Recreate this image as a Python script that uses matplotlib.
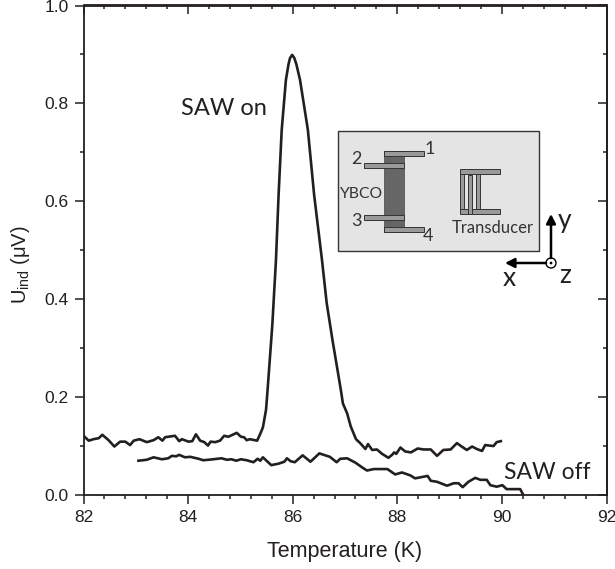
"""Induced voltage vs temperature with SAW on/off, plus the sample sketch inset."""

import matplotlib

matplotlib.use("Agg")
from matplotlib import pyplot as plt
from matplotlib.patches import Circle, Rectangle
from matplotlib.ticker import MultipleLocator

plt.rcParams["font.family"] = ["Liberation Sans", "DejaVu Sans"]
plt.rcParams["mathtext.default"] = "regular"

INK = "#231f20"
SKETCH_FONT = "Lato"

saw_on_t = [
    82.00, 82.10, 82.19, 82.29, 82.36, 82.48, 82.59, 82.70, 82.80, 82.89, 82.96, 83.07, 83.21, 83.34,
    83.43, 83.51, 83.56, 83.75, 83.83, 83.88, 84.01, 84.08, 84.15, 84.23, 84.31, 84.38, 84.43, 84.52,
    84.61, 84.69, 84.77, 84.93, 85.01, 85.07, 85.12, 85.18, 85.32, 85.38, 85.43, 85.49, 85.52, 85.61,
    85.68, 85.73, 85.79, 85.87, 85.92, 85.95, 85.99, 86.03, 86.07, 86.14, 86.29, 86.41, 86.56, 86.65,
    86.76, 86.92, 86.96, 87.04, 87.11, 87.21, 87.29, 87.39, 87.44, 87.52, 87.61, 87.71, 87.83, 87.90,
    87.94, 87.98, 88.06, 88.15, 88.26, 88.39, 88.50, 88.64, 88.76, 88.88, 89.02, 89.14, 89.23, 89.33,
    89.43, 89.52, 89.62, 89.68, 89.84, 89.90, 89.98,
]
saw_on_u = [
    0.121, 0.111, 0.114, 0.116, 0.123, 0.112, 0.099, 0.109, 0.109, 0.102, 0.111, 0.114, 0.108, 0.112,
    0.118, 0.111, 0.118, 0.121, 0.110, 0.114, 0.109, 0.110, 0.124, 0.111, 0.108, 0.101, 0.109, 0.108,
    0.111, 0.121, 0.119, 0.127, 0.119, 0.118, 0.112, 0.114, 0.111, 0.125, 0.138, 0.174, 0.215, 0.347,
    0.480, 0.613, 0.746, 0.848, 0.880, 0.893, 0.899, 0.893, 0.880, 0.848, 0.746, 0.613, 0.480, 0.392,
    0.317, 0.215, 0.187, 0.167, 0.140, 0.114, 0.106, 0.094, 0.104, 0.092, 0.093, 0.084, 0.076, 0.082,
    0.087, 0.084, 0.097, 0.089, 0.087, 0.095, 0.093, 0.093, 0.080, 0.092, 0.093, 0.106, 0.099, 0.092,
    0.099, 0.094, 0.090, 0.102, 0.100, 0.108, 0.110,
]
saw_off_t = [
    83.05, 83.21, 83.34, 83.50, 83.62, 83.69, 83.77, 83.83, 83.94, 84.04, 84.20, 84.29, 84.39, 84.48,
    84.64, 84.74, 84.83, 84.92, 85.01, 85.12, 85.25, 85.33, 85.38, 85.43, 85.50, 85.59, 85.73, 85.84,
    85.89, 85.96, 86.04, 86.19, 86.34, 86.51, 86.71, 86.84, 86.91, 87.04, 87.20, 87.32, 87.42, 87.55,
    87.71, 87.81, 87.96, 88.09, 88.25, 88.34, 88.58, 88.64, 88.76, 88.95, 89.08, 89.17, 89.25, 89.36,
    89.49, 89.59, 89.71, 89.78, 89.90, 90.01, 90.09, 90.35, 90.41,
]
saw_off_u = [
    0.070, 0.072, 0.077, 0.073, 0.075, 0.080, 0.079, 0.082, 0.077, 0.078, 0.074, 0.071, 0.072, 0.073,
    0.075, 0.072, 0.073, 0.070, 0.073, 0.071, 0.067, 0.074, 0.070, 0.077, 0.070, 0.061, 0.064, 0.068,
    0.075, 0.069, 0.067, 0.081, 0.068, 0.085, 0.078, 0.067, 0.074, 0.075, 0.066, 0.057, 0.050, 0.053,
    0.053, 0.053, 0.042, 0.046, 0.040, 0.034, 0.039, 0.029, 0.027, 0.019, 0.024, 0.024, 0.016, 0.027,
    0.035, 0.031, 0.031, 0.020, 0.017, 0.020, 0.012, 0.012, 0.000,
]
x_ticks = [82, 84, 86, 88, 90, 92]
y_ticks = [0.0, 0.2, 0.4, 0.6, 0.8, 1.0]


def style_axis(axis, direction, labels):
    axis.set_major_locator(MultipleLocator(2 if axis.axis_name == "x" else 0.2))
    axis.set_minor_locator(MultipleLocator(0.4 if axis.axis_name == "x" else 0.1))
    axis.set_tick_params(which="major", direction=direction, length=6.5, width=1.1, color=INK)
    axis.set_tick_params(which="minor", direction=direction, length=3.2, width=1.1, color=INK)
    if not labels:
        axis.set_ticklabels([])


def draw_sketch(sk):
    """The inset is a drawing, not data, so it is laid out in image pixels."""
    bar = dict(facecolor="#9a9a9a", edgecolor="#333333", linewidth=0.7)
    sk.add_patch(Rectangle((337.5, 131), 201, 120, facecolor="#e4e4e4", edgecolor="#333333", linewidth=1.0))
    sk.add_patch(Rectangle((383.5, 151), 20, 81, facecolor="#666666", edgecolor="#444444", linewidth=0.5))
    for x0, y0 in [(383.5, 151), (363.5, 163), (363.5, 215), (383.5, 227)]:
        sk.add_patch(Rectangle((x0, y0), 40, 4.5, **bar))
    for y0 in [169, 209]:
        sk.add_patch(Rectangle((459.5, y0), 40.5, 4.5, **bar))
    sk.add_patch(Rectangle((459.5, 173.5), 4, 35.5, **bar))
    sk.add_patch(Rectangle((467.5, 175), 4, 38.5, **bar))
    sk.add_patch(Rectangle((476, 173.5), 4, 35.5, **bar))

    small = dict(family=SKETCH_FONT, color="#333333", ha="center", va="center")
    for label, x0, y0 in [("1", 430, 149), ("2", 356, 159), ("3", 356, 221), ("4", 428, 236)]:
        sk.text(x0, y0, label, fontsize=13, **small)
    sk.text(361, 194, "YBCO", fontsize=11.3, **small)
    sk.text(493, 228, "Transducer", fontsize=12, **small)

    arrow = dict(arrowstyle="-|>,head_length=0.55,head_width=0.28", color="black", linewidth=1.8, shrinkA=0, shrinkB=0)
    sk.annotate("", xy=(505, 263), xytext=(546, 263), arrowprops=arrow)
    sk.annotate("", xy=(551, 214), xytext=(551, 258), arrowprops=arrow)
    sk.add_patch(Circle((551, 263), 5, facecolor="white", edgecolor="black", linewidth=1.0))
    sk.add_patch(Circle((551, 263), 1.4, facecolor="black", edgecolor="none"))
    big = dict(family=SKETCH_FONT, color=INK, ha="center", va="center", fontsize=19)
    sk.text(509, 278, "x", **big)
    sk.text(565, 220, "y", **big)
    sk.text(565, 275, "z", **big)


fig = plt.figure(figsize=(6.15, 5.69), dpi=100)
ax = fig.add_axes([83.5 / 615, 1 - 495 / 569, 523 / 615, 489.5 / 569])

ax.plot(saw_on_t, saw_on_u, color=INK, linewidth=1.9, solid_joinstyle="round")
ax.plot(saw_off_t, saw_off_u, color=INK, linewidth=1.9, solid_joinstyle="round")
ax.set_xlim(82, 92)
ax.set_ylim(0, 1)

style_axis(ax.xaxis, "out", True)
style_axis(ax.yaxis, "out", True)
ax.set_xticks(x_ticks)
ax.set_yticks(y_ticks)
ax.set_yticklabels([f"{v:.1f}" for v in y_ticks])
ax.tick_params(axis="both", which="major", labelsize=12.5, labelcolor=INK, pad=4)

top = ax.secondary_xaxis("top")
style_axis(top.xaxis, "in", False)
right = ax.secondary_yaxis("right")
style_axis(right.yaxis, "in", False)
for a in [ax, top, right]:
    for spine in a.spines.values():
        spine.set_linewidth(1.3)
        spine.set_color(INK)

ax.set_xlabel("Temperature (K)", fontsize=15.5, color=INK, va="center")
ax.xaxis.set_label_coords(0.5, -0.116)
ax.set_ylabel(r"U$_{ind}$ ($\mu$V)", fontsize=14.5, color=INK, va="center")
ax.yaxis.set_label_coords(-0.121, 0.47)

ax.text(84.69, 0.79, "SAW on", family=SKETCH_FONT, fontsize=17, color=INK, ha="center", va="center")
ax.text(90.86, 0.045, "SAW off", family=SKETCH_FONT, fontsize=16.5, color=INK, ha="center", va="center")

sk = fig.add_axes([0, 0, 1, 1], facecolor="none")
sk.set_xlim(0, 615)
sk.set_ylim(569, 0)
sk.axis("off")
draw_sketch(sk)

fig.savefig("out.png", dpi=100)
